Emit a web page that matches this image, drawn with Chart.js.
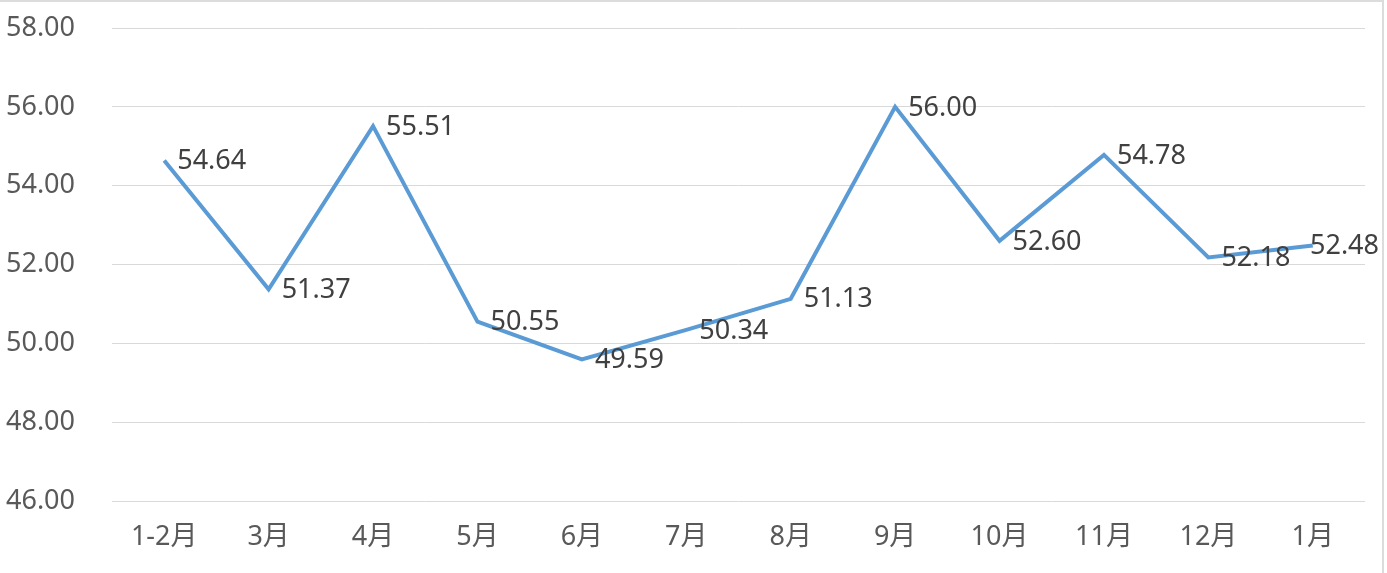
<!DOCTYPE html>
<html><head><meta charset="utf-8">
<script src="https://cdn.jsdelivr.net/npm/chart.js@4"></script>
<style>
html,body{margin:0;padding:0;background:#fff;overflow:hidden;}
#wrap{position:absolute;left:0;top:0;width:1384px;height:573px;border-top:2px solid #dcdcdc;border-right:2px solid #dcdcdc;box-sizing:border-box;}
#c{position:absolute;left:0;top:0;}
</style></head>
<body>
<div id="wrap"></div>
<canvas id="c" width="1387" height="573"></canvas>
<script>
const categories = ['1-2月','3月','4月','5月','6月','7月','8月','9月','10月','11月','12月','1月'];
const values = [54.64, 51.37, 55.51, 50.55, 49.59, 50.34, 51.13, 56.00, 52.60, 54.78, 52.18, 52.48];
const yMin = 46, yMax = 58, yStep = 2;
const FONT = '"Noto Sans", "Noto Sans CJK SC", sans-serif';

const labelPlugin = {
  id: 'valueLabels',
  afterDatasetsDraw(chart) {
    const ctx = chart.ctx;
    const meta = chart.getDatasetMeta(0);
    ctx.save();
    ctx.font = '27px ' + FONT;
    ctx.fillStyle = '#404040';
    ctx.textBaseline = 'middle';
    ctx.textAlign = 'left';
    meta.data.forEach((pt, i) => {
      const txt = values[i].toFixed(2);
      const w = ctx.measureText(txt).width;
      let x = pt.x + 13;
      if (x + w > chart.width - 8) x = chart.width - 8 - w;
      ctx.fillText(txt, x, pt.y + 1);
    });
    ctx.restore();
  }
};

new Chart(document.getElementById('c'), {
  type: 'line',
  data: {
    labels: categories,
    datasets: [{
      data: values,
      borderColor: '#5B9BD5',
      borderWidth: 4,
      pointRadius: 0,
      tension: 0,
      fill: false
    }]
  },
  options: {
    responsive: false,
    animation: false,
    layout: { padding: { top: 28, right: 22, left: 0, bottom: 0 } },
    plugins: { legend: { display: false }, tooltip: { enabled: false } },
    scales: {
      x: {
        offset: true,
        grid: { display: false, drawTicks: false },
        border: { display: false },
        ticks: { font: { size: 27, family: FONT }, color: '#595959', padding: 20, maxRotation: 0 },
        afterFit(s) { s.height = 72; s.paddingLeft = 0; s.paddingRight = 0; }
      },
      y: {
        min: yMin, max: yMax,
        grid: { color: '#D9D9D9', lineWidth: 1, drawTicks: false },
        border: { display: false },
        ticks: { stepSize: yStep, font: { size: 27, family: FONT }, color: '#595959', padding: 37,
          callback: v => Number(v).toFixed(2) },
        afterFit(s) { s.width = 112; s.paddingTop = 0; s.paddingBottom = 0; }
      }
    }
  },
  plugins: [labelPlugin]
});
</script>
</body></html>
